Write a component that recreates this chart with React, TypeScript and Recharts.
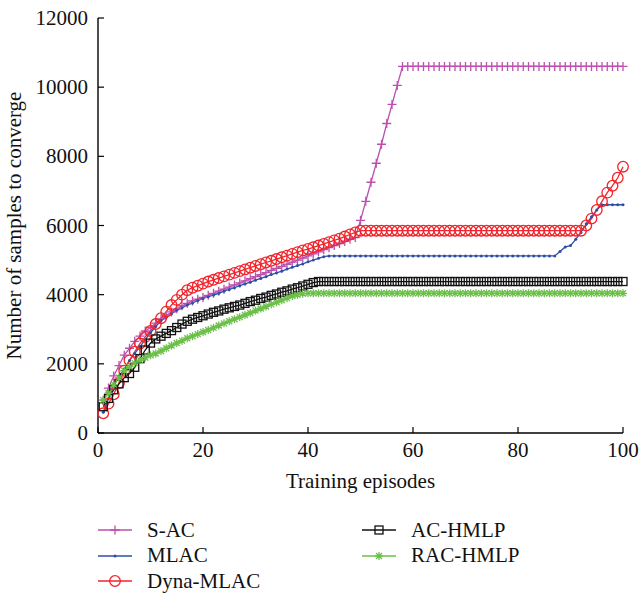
import { Line, LineChart, XAxis, YAxis } from 'recharts';

const FONT = '"Liberation Serif", "Times New Roman", "DejaVu Serif", serif';

const episodes = [
  1, 2, 3, 4, 5, 6, 7, 8, 9, 10, 11, 12, 13, 14, 15, 16, 17, 18, 19, 20,
  21, 22, 23, 24, 25, 26, 27, 28, 29, 30, 31, 32, 33, 34, 35, 36, 37, 38, 39, 40,
  41, 42, 43, 44, 45, 46, 47, 48, 49, 50, 51, 52, 53, 54, 55, 56, 57, 58, 59, 60,
  61, 62, 63, 64, 65, 66, 67, 68, 69, 70, 71, 72, 73, 74, 75, 76, 77, 78, 79, 80,
  81, 82, 83, 84, 85, 86, 87, 88, 89, 90, 91, 92, 93, 94, 95, 96, 97, 98, 99, 100,
];

const sAC = [
  950, 1300, 1650, 1950, 2250, 2450, 2650, 2800, 2950, 3050,
  3180, 3300, 3400, 3500, 3590, 3680, 3750, 3820, 3870, 3920,
  3980, 4040, 4100, 4160, 4220, 4280, 4340, 4400, 4460, 4520,
  4580, 4640, 4700, 4760, 4820, 4880, 4940, 5000, 5060, 5120,
  5180, 5240, 5300, 5360, 5420, 5480, 5540, 5600, 5650, 6150,
  6700, 7250, 7800, 8350, 8950, 9500, 10050, 10600, 10600, 10600,
  10600, 10600, 10600, 10600, 10600, 10600, 10600, 10600, 10600, 10600,
  10600, 10600, 10600, 10600, 10600, 10600, 10600, 10600, 10600, 10600,
  10600, 10600, 10600, 10600, 10600, 10600, 10600, 10600, 10600, 10600,
  10600, 10600, 10600, 10600, 10600, 10600, 10600, 10600, 10600, 10600,
];

const mlac = [
  600, 1000, 1350, 1650, 1850, 2100, 2300, 2500, 2700, 2900,
  3080, 3250, 3350, 3450, 3550, 3620, 3700, 3760, 3830, 3890,
  3940, 3990, 4040, 4100, 4150, 4200, 4260, 4310, 4360, 4420,
  4470, 4520, 4580, 4630, 4680, 4740, 4790, 4840, 4890, 4950,
  5000, 5050, 5100, 5120, 5120, 5120, 5120, 5120, 5120, 5120,
  5120, 5120, 5120, 5120, 5120, 5120, 5120, 5120, 5120, 5120,
  5120, 5120, 5120, 5120, 5120, 5120, 5120, 5120, 5120, 5120,
  5120, 5120, 5120, 5120, 5120, 5120, 5120, 5120, 5120, 5120,
  5120, 5120, 5120, 5120, 5120, 5120, 5120, 5250, 5380, 5420,
  5600, 5800, 6050, 6250, 6450, 6600, 6600, 6600, 6600, 6600,
];

const dynaMLAC = [
  570, 850, 1120, 1450, 1800, 2100, 2350, 2590, 2780, 2950,
  3150, 3320, 3510, 3700, 3850, 4000, 4130, 4200, 4260, 4320,
  4380, 4430, 4480, 4530, 4580, 4630, 4680, 4730, 4780, 4830,
  4880, 4930, 4980, 5030, 5080, 5130, 5180, 5230, 5280, 5320,
  5370, 5420, 5470, 5520, 5570, 5620, 5680, 5740, 5800, 5850,
  5850, 5850, 5850, 5850, 5850, 5850, 5850, 5850, 5850, 5850,
  5850, 5850, 5850, 5850, 5850, 5850, 5850, 5850, 5850, 5850,
  5850, 5850, 5850, 5850, 5850, 5850, 5850, 5850, 5850, 5850,
  5850, 5850, 5850, 5850, 5850, 5850, 5850, 5850, 5850, 5850,
  5850, 5850, 6000, 6200, 6450, 6700, 6950, 7150, 7380, 7700,
];

const acHMLP = [
  760, 1000, 1250, 1420, 1600, 1720, 1900, 2150, 2400, 2600,
  2720, 2800, 2880, 2960, 3050, 3150, 3230, 3290, 3340, 3390,
  3440, 3490, 3530, 3580, 3620, 3660, 3700, 3750, 3800, 3840,
  3890, 3930, 3980, 4020, 4070, 4110, 4160, 4200, 4250, 4300,
  4350, 4380, 4380, 4380, 4380, 4380, 4380, 4380, 4380, 4380,
  4380, 4380, 4380, 4380, 4380, 4380, 4380, 4380, 4380, 4380,
  4380, 4380, 4380, 4380, 4380, 4380, 4380, 4380, 4380, 4380,
  4380, 4380, 4380, 4380, 4380, 4380, 4380, 4380, 4380, 4380,
  4380, 4380, 4380, 4380, 4380, 4380, 4380, 4380, 4380, 4380,
  4380, 4380, 4380, 4380, 4380, 4380, 4380, 4380, 4380, 4380,
];

const racHMLP = [
  950, 1150, 1400, 1600, 1800, 1920, 2020, 2110, 2180, 2250,
  2300, 2370, 2450, 2530, 2600, 2670, 2740, 2800, 2860, 2920,
  2980, 3040, 3110, 3170, 3230, 3290, 3350, 3410, 3470, 3540,
  3600, 3660, 3720, 3780, 3840, 3900, 3960, 4000, 4030, 4040,
  4040, 4040, 4040, 4040, 4040, 4040, 4040, 4040, 4040, 4040,
  4040, 4040, 4040, 4040, 4040, 4040, 4040, 4040, 4040, 4040,
  4040, 4040, 4040, 4040, 4040, 4040, 4040, 4040, 4040, 4040,
  4040, 4040, 4040, 4040, 4040, 4040, 4040, 4040, 4040, 4040,
  4040, 4040, 4040, 4040, 4040, 4040, 4040, 4040, 4040, 4040,
  4040, 4040, 4040, 4040, 4040, 4040, 4040, 4040, 4040, 4040,
];

const xTicks = [0, 20, 40, 60, 80, 100];
const yTicks = [0, 2000, 4000, 6000, 8000, 10000, 12000];

const COLORS = {
  sac: '#bd4fae',
  mlac: '#2f4fa6',
  dyna: '#f2232a',
  ac: '#111111',
  rac: '#6cc04a',
};

const data = episodes.map((ep, i) => ({
  ep,
  sac: sAC[i],
  mlac: mlac[i],
  dyna: dynaMLAC[i],
  ac: acHMLP[i],
  rac: racHMLP[i],
}));

type Marker = 'plus' | 'dot' | 'circle' | 'square' | 'star';

function markerShape(kind: Marker, color: string, cx: number, cy: number, key?: number) {
  switch (kind) {
    case 'plus':
      return (
        <path key={key} d={`M${cx - 4.5},${cy}h9M${cx},${cy - 4.5}v9`} stroke={color} strokeWidth={1.3} fill="none" />
      );
    case 'dot':
      return <circle key={key} cx={cx} cy={cy} r={1.5} fill={color} stroke="none" />;
    case 'circle':
      return <circle key={key} cx={cx} cy={cy} r={5.3} fill="none" stroke={color} strokeWidth={1.3} />;
    case 'square':
      return <rect key={key} x={cx - 4} y={cy - 4} width={8} height={8} fill="none" stroke={color} strokeWidth={1.3} />;
    default:
      return (
        <path
          key={key}
          d={`M${cx - 4},${cy}h8M${cx},${cy - 4}v8M${cx - 3},${cy - 3}l6,6M${cx - 3},${cy + 3}l6,-6`}
          stroke={color}
          strokeWidth={1.3}
          fill="none"
        />
      );
  }
}

const dotFor = (kind: Marker, color: string) => (props: any) => {
  const { cx, cy, index } = props;
  if (cx == null || cy == null) return <g key={index} />;
  return markerShape(kind, color, cx, cy, index);
};

const BottomTick = ({ x, y, payload }: any) => (
  <g>
    <line x1={x} x2={x} y1={y} y2={y - 6} stroke="#000" strokeWidth={1.2} />
    <text x={x} y={y + 24} textAnchor="middle" fontFamily={FONT} fontSize={21} fill="#111">
      {payload.value}
    </text>
  </g>
);

const LeftTick = ({ x, y, payload }: any) => (
  <g>
    <line x1={x} x2={x + 6} y1={y} y2={y} stroke="#000" strokeWidth={1.2} />
    <text x={x - 10} y={y + 7} textAnchor="end" fontFamily={FONT} fontSize={21} fill="#111">
      {payload.value}
    </text>
  </g>
);

const TopTick = ({ x, y }: any) => <line x1={x} x2={x} y1={y} y2={y + 6} stroke="#000" strokeWidth={1.2} />;

const RightTick = ({ x, y }: any) => <line x1={x} x2={x - 6} y1={y} y2={y} stroke="#000" strokeWidth={1.2} />;

const legendItems: { name: string; color: string; kind: Marker; col: number; row: number }[] = [
  { name: 'S-AC', color: COLORS.sac, kind: 'plus', col: 0, row: 0 },
  { name: 'MLAC', color: COLORS.mlac, kind: 'dot', col: 0, row: 1 },
  { name: 'Dyna-MLAC', color: COLORS.dyna, kind: 'circle', col: 0, row: 2 },
  { name: 'AC-HMLP', color: COLORS.ac, kind: 'square', col: 1, row: 0 },
  { name: 'RAC-HMLP', color: COLORS.rac, kind: 'star', col: 1, row: 1 },
];

export default function App() {
  return (
    <div style={{ position: 'absolute', left: 0, top: 0, width: 640, height: 595, background: '#fff' }}>
      <LineChart width={640} height={595} data={data} margin={{ top: 18, right: 17, left: 0, bottom: 102 }}>
        <XAxis
          dataKey="ep"
          type="number"
          domain={[0, 100]}
          ticks={xTicks}
          height={60}
          tickSize={0}
          tickMargin={0}
          tickLine={false}
          tick={BottomTick}
          axisLine={{ stroke: '#000', strokeWidth: 1.4 }}
          label={({ viewBox }: any) => (
            <text
              x={viewBox.x + viewBox.width / 2}
              y={viewBox.y + 55}
              textAnchor="middle"
              fontFamily={FONT}
              fontSize={21}
              fill="#111"
            >
              Training episodes
            </text>
          )}
        />
        <XAxis
          xAxisId="top"
          orientation="top"
          dataKey="ep"
          type="number"
          domain={[0, 100]}
          ticks={xTicks}
          height={0}
          tickSize={0}
          tickMargin={0}
          tickLine={false}
          tick={TopTick}
          axisLine={{ stroke: '#000', strokeWidth: 1.4 }}
        />
        <YAxis
          type="number"
          domain={[0, 12000]}
          ticks={yTicks}
          width={98}
          tickSize={0}
          tickMargin={0}
          tickLine={false}
          tick={LeftTick}
          axisLine={{ stroke: '#000', strokeWidth: 1.4 }}
          label={({ viewBox }: any) => {
            const cx = 21;
            const cy = viewBox.y + viewBox.height / 2;
            return (
              <text
                x={cx}
                y={cy}
                transform={`rotate(-90 ${cx} ${cy})`}
                textAnchor="middle"
                fontFamily={FONT}
                fontSize={21}
                fill="#111"
              >
                Number of samples to converge
              </text>
            );
          }}
        />
        <YAxis
          yAxisId="right"
          orientation="right"
          type="number"
          domain={[0, 12000]}
          ticks={yTicks}
          width={0}
          tickSize={0}
          tickMargin={0}
          tickLine={false}
          tick={RightTick}
          axisLine={{ stroke: '#000', strokeWidth: 1.4 }}
        />
        <Line
          xAxisId="top"
          yAxisId="right"
          dataKey="sac"
          stroke="none"
          dot={false}
          activeDot={false}
          legendType="none"
          isAnimationActive={false}
        />
        <Line dataKey="sac" name="S-AC" stroke={COLORS.sac} strokeWidth={1.3} dot={dotFor('plus', COLORS.sac)} isAnimationActive={false} />
        <Line dataKey="mlac" name="MLAC" stroke={COLORS.mlac} strokeWidth={1.3} dot={dotFor('dot', COLORS.mlac)} isAnimationActive={false} />
        <Line dataKey="dyna" name="Dyna-MLAC" stroke={COLORS.dyna} strokeWidth={1.3} dot={dotFor('circle', COLORS.dyna)} isAnimationActive={false} />
        <Line dataKey="ac" name="AC-HMLP" stroke={COLORS.ac} strokeWidth={1.3} dot={dotFor('square', COLORS.ac)} isAnimationActive={false} />
        <Line dataKey="rac" name="RAC-HMLP" stroke={COLORS.rac} strokeWidth={1.3} dot={dotFor('star', COLORS.rac)} isAnimationActive={false} />
      </LineChart>
      {legendItems.map((item) => (
        <div
          key={item.name}
          style={{
            position: 'absolute',
            left: item.col === 0 ? 97 : 361,
            top: 518 + item.row * 25.5,
            height: 24,
            display: 'flex',
            alignItems: 'center',
            fontFamily: FONT,
            fontSize: 21,
            color: '#111',
            whiteSpace: 'nowrap',
          }}
        >
          <svg width={36} height={24} style={{ marginRight: 14 }}>
            <line x1={1} x2={35} y1={12} y2={12} stroke={item.color} strokeWidth={1.5} />
            {markerShape(item.kind, item.color, 18, 12)}
          </svg>
          {item.name}
        </div>
      ))}
    </div>
  );
}
